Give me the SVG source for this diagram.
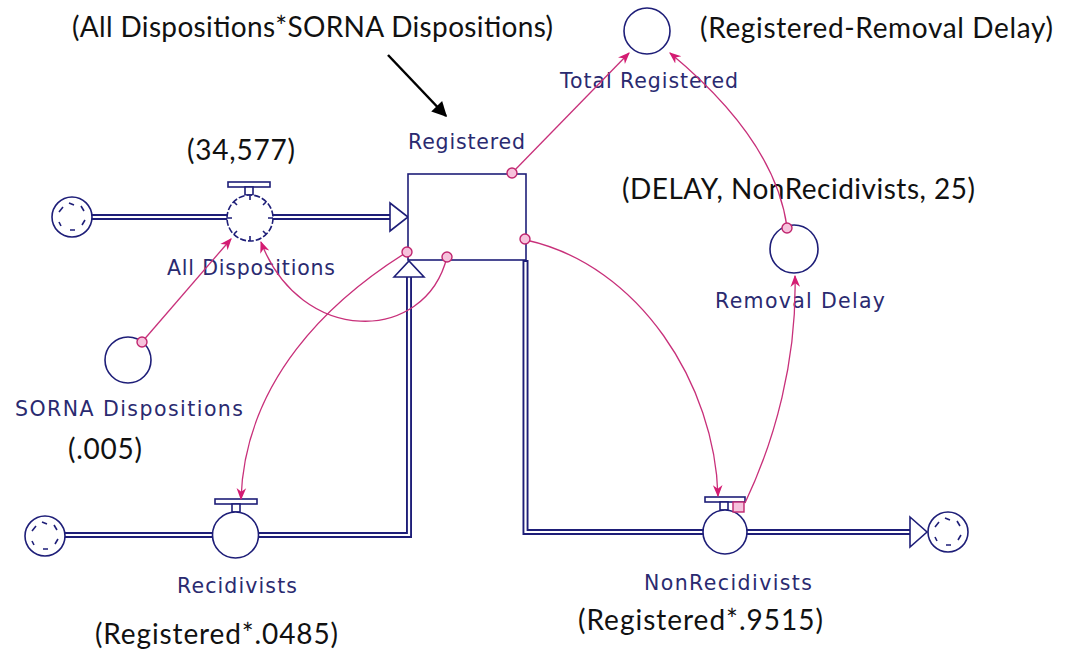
<svg xmlns="http://www.w3.org/2000/svg" width="1072" height="652" viewBox="0 0 1072 652">
<style>
.nv{fill:none;stroke:#1e1e78;stroke-width:1.6}
.vf{fill:#fff;stroke:#1e1e78;stroke-width:1.6}
.po{fill:none;stroke:#1e1e78;stroke-width:6;stroke-linejoin:miter}
.pi{fill:none;stroke:#fff;stroke-width:2.2;stroke-linejoin:miter}
.ah{fill:#fff;stroke:#1e1e78;stroke-width:1.6;stroke-linejoin:miter}
.lbl{font-family:"DejaVu Sans",sans-serif;font-size:20.5px;fill:#2a2a70}
.ann{font-family:Lato,"Liberation Sans",sans-serif;font-size:28px;fill:#111}
.cn{fill:none;stroke:#c8307a;stroke-width:1.3}
.og{fill:#f6c2dc;stroke:#c0266f;stroke-width:1.4}
</style>
<defs>
<marker id="pa" viewBox="0 0 10 10" refX="9" refY="5" markerWidth="12" markerHeight="12" markerUnits="userSpaceOnUse" orient="auto"><path d="M0,1 L10,5 L0,9 L3,5 z" fill="#d41c72"/></marker>
<marker id="ba" viewBox="0 0 10 10" refX="9" refY="5" markerWidth="17" markerHeight="15" markerUnits="userSpaceOnUse" orient="auto"><path d="M0,0 L10,5 L0,10 z" fill="#000"/></marker>
<g id="cloud">
<circle r="20" class="vf"/>
<path class="nv" d="M-13,-5 l4,-5 M-3,-14 l5,2 M9,-11 l3,5 M13,3 l-3,5 M3,13 l-5,0 M-11,9 l-2,-4"/>
</g>
</defs>
<rect width="1072" height="652" fill="#fff"/>

<g id="pipes">
<path class="po" d="M92,217 H390"/>
<path class="pi" d="M92,217 H392"/>
<polygon class="ah" points="390,203 408,217 390,231"/>
<path class="po" d="M65,535 H409 V277"/>
<path class="pi" d="M65,535 H409 V275"/>
<polygon class="ah" points="394,277 409,261 424,277"/>
<path class="po" d="M525.5,260 V532 H910"/>
<path class="pi" d="M525.5,262 V532 H912"/>
<polygon class="ah" points="910,517 927,532 910,547"/>
</g>

<g id="cloud-source-top"><use href="#cloud" x="72" y="217"/></g>
<g id="cloud-source-bottom"><use href="#cloud" x="45" y="536"/></g>
<g id="cloud-sink"><use href="#cloud" x="948" y="532"/></g>

<g id="node-registered">
<rect x="408" y="174" width="118" height="86" class="vf" stroke-width="2"/>
<text class="lbl" x="408" y="149" textLength="117">Registered</text>
<text class="ann" x="72" y="37" textLength="481">(All Dispositions*SORNA Dispositions)</text>
<line x1="388" y1="55" x2="446" y2="116" stroke="#000" stroke-width="2.5" marker-end="url(#ba)"/>
</g>

<g id="node-all-dispositions">
<rect x="228" y="182" width="42" height="5" class="vf"/>
<rect x="245" y="187" width="8" height="8" class="vf"/>
<circle cx="250" cy="218" r="23" class="vf" stroke-dasharray="6 2"/>
<path class="nv" d="M250,195 v5 M250,241 v-5 M227,218 h5 M273,218 h-5 M234,202 l3,3 M266,202 l-3,3 M234,234 l3,-3 M266,234 l-3,-3"/>
<text class="lbl" x="167" y="275" textLength="168">All Dispositions</text>
<text class="ann" x="187" y="160" textLength="108">(34,577)</text>
</g>

<g id="node-sorna">
<circle cx="128" cy="360" r="23" class="vf"/>
<text class="lbl" x="15" y="416" textLength="228">SORNA Dispositions</text>
<text class="ann" x="68" y="459" textLength="74">(.005)</text>
</g>

<g id="node-total-registered">
<circle cx="647" cy="31" r="23" class="vf"/>
<text class="lbl" x="560" y="88" textLength="178">Total Registered</text>
<text class="ann" x="700" y="38" textLength="353">(Registered-Removal Delay)</text>
</g>

<g id="node-removal-delay">
<circle cx="794" cy="249" r="24" class="vf"/>
<text class="lbl" x="715" y="308" textLength="170">Removal Delay</text>
<text class="ann" x="622" y="199" textLength="353">(DELAY, NonRecidivists, 25)</text>
</g>

<g id="node-recidivists">
<rect x="215" y="499" width="42" height="5" class="vf"/>
<rect x="232" y="504" width="8" height="8" class="vf"/>
<circle cx="235.5" cy="535" r="23" class="vf"/>
<text class="lbl" x="177" y="593" textLength="120">Recidivists</text>
<text class="ann" x="95" y="644" textLength="243">(Registered*.0485)</text>
</g>

<g id="node-nonrecidivists">
<rect x="705" y="497" width="40" height="5" class="vf"/>
<rect x="720" y="502" width="8" height="8" class="vf"/>
<circle cx="725" cy="532" r="22" class="vf"/>
<rect x="733" y="502" width="11" height="10" class="og"/>
<text class="lbl" x="644" y="590" textLength="168">NonRecidivists</text>
<text class="ann" x="578" y="630" textLength="245">(Registered*.9515)</text>
</g>

<g id="connectors">
<path class="cn" d="M512,173 L629,53" marker-end="url(#pa)"/>
<path class="cn" d="M787,227 Q775,140 670,53" marker-end="url(#pa)"/>
<path class="cn" d="M142,342 L231,239" marker-end="url(#pa)"/>
<path class="cn" d="M447,257 C425,345 300,345 261,242" marker-end="url(#pa)"/>
<path class="cn" d="M407,252 C330,300 245,380 241,499" marker-end="url(#pa)"/>
<path class="cn" d="M526,240 C640,265 715,385 718,496" marker-end="url(#pa)"/>
<path class="cn" d="M745,503 C775,440 797,360 795,276" marker-end="url(#pa)"/>
<circle class="og" cx="512" cy="173" r="5"/>
<circle class="og" cx="787" cy="228" r="5"/>
<circle class="og" cx="142" cy="342" r="5"/>
<circle class="og" cx="447" cy="257" r="5"/>
<circle class="og" cx="407" cy="252" r="5"/>
<circle class="og" cx="525" cy="239" r="5"/>
</g>
</svg>
